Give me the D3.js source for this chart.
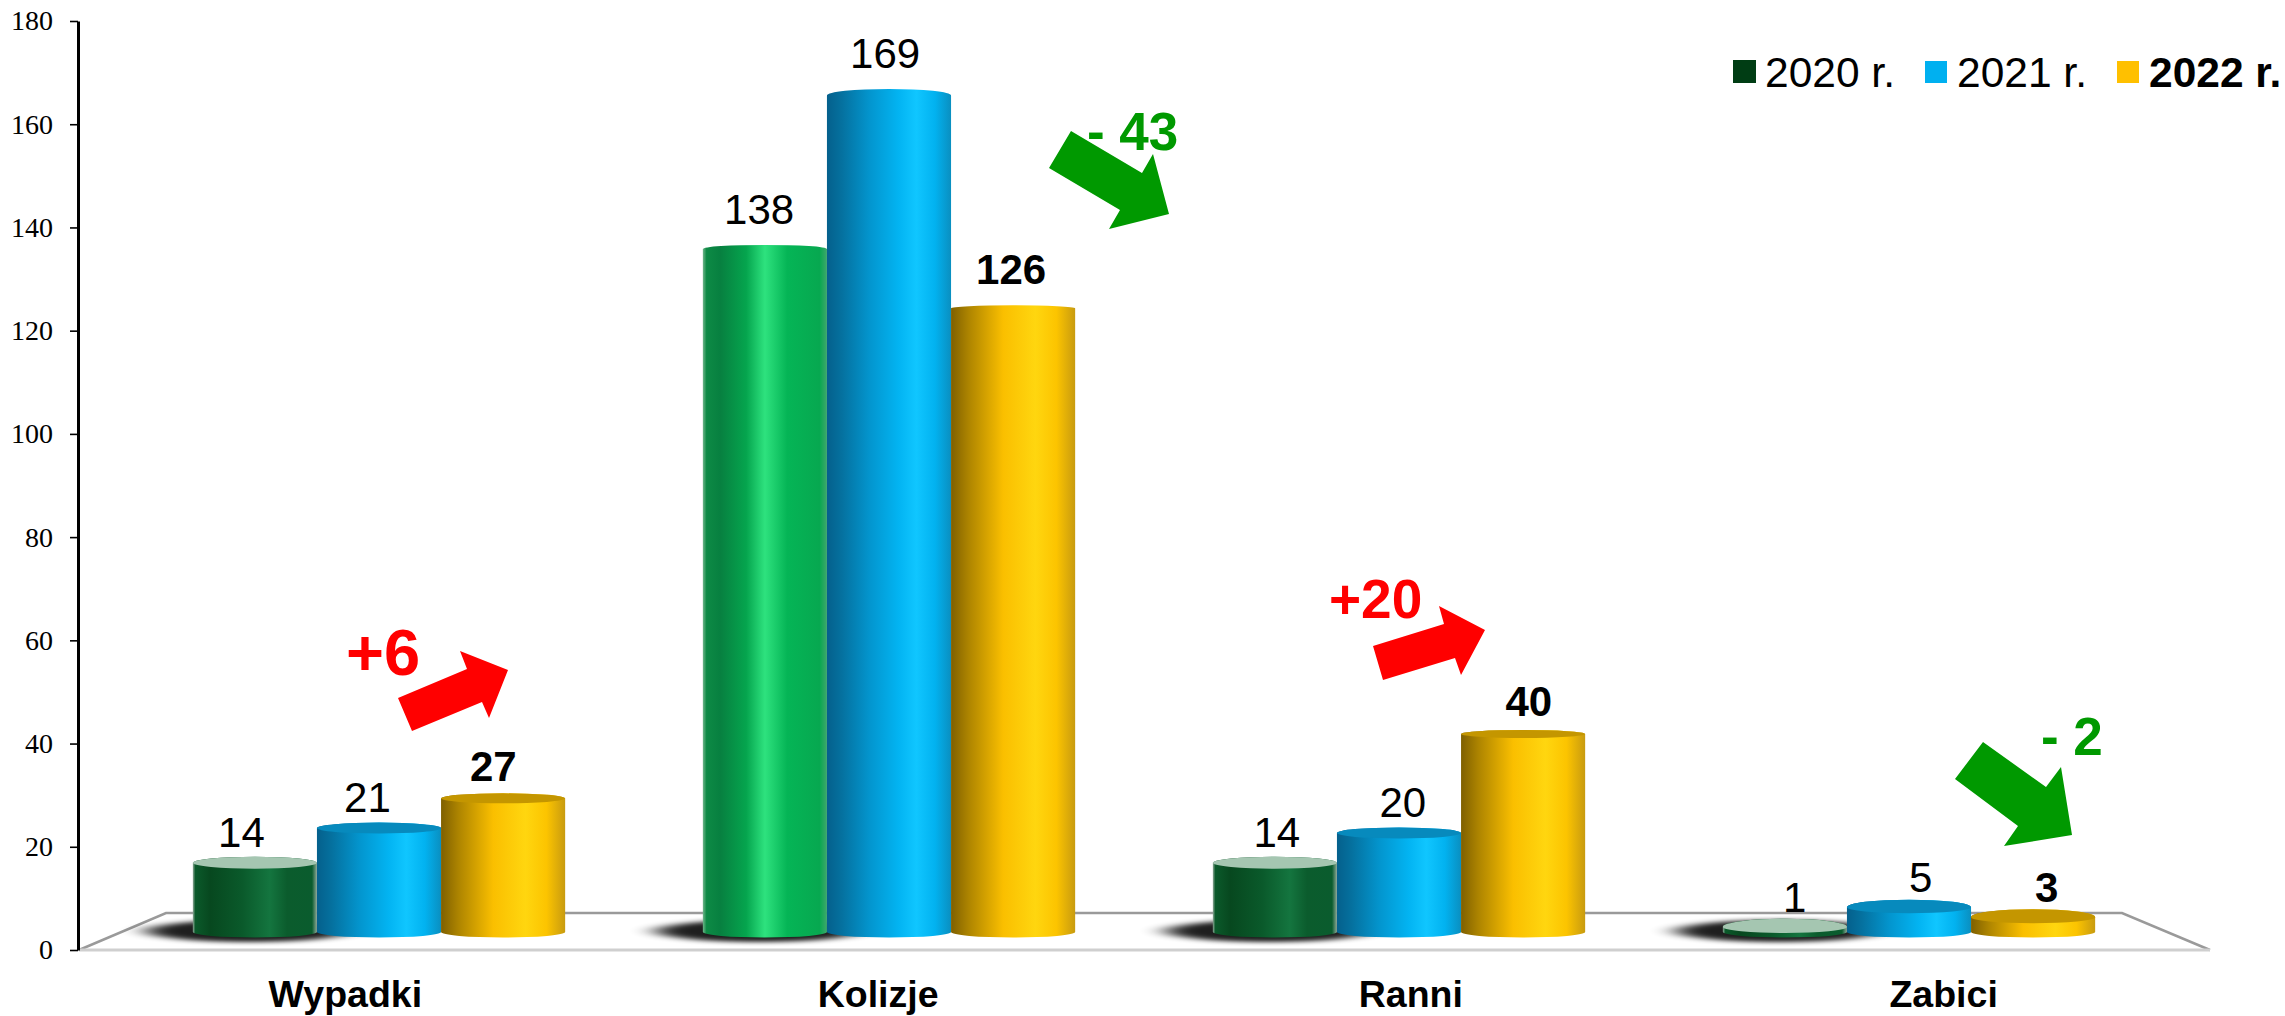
<!DOCTYPE html>
<html><head><meta charset="utf-8">
<style>html,body{margin:0;padding:0;background:#fff}svg{display:block}text{font-family:"Liberation Sans",Arial,sans-serif;fill:#000}</style>
<script src="https://cdn.jsdelivr.net/npm/d3@7"></script>
</head><body><div id="chart"></div>
<script>
const categories = ["Wypadki","Kolizje","Ranni","Zabici"];
const seriesNames = ["2020 r.","2021 r.","2022 r."];
const values2020 = [14,138,14,1];
const values2021 = [21,169,20,5];
const values2022 = [27,126,40,3];
const changes = ["+6","- 43","+20","- 2"];
const yTicks = [0,20,40,60,80,100,120,140,160,180];
const series = [values2020,values2021,values2022];

const W=2285,H=1016;
const svg=d3.select("#chart").append("svg").attr("width",W).attr("height",H).attr("viewBox",[0,0,W,H]);
const defs=svg.append("defs");
function grad(id,stops){
  const g=defs.append("linearGradient").attr("id",id).attr("x1",0).attr("x2",1).attr("y1",0).attr("y2",0);
  stops.forEach(s=>g.append("stop").attr("offset",s[0]).attr("stop-color",s[1]));
}
grad("gDark",[[0,"#8fa898"],[.02,"#0b5a2b"],[.14,"#07481f"],[.4,"#0a5a2b"],[.62,"#14753f"],[.76,"#0b5c2d"],[.96,"#0a5c2e"],[1,"#8fa898"]]);
grad("gBright",[[0,"#6fb58a"],[.03,"#0d8a45"],[.14,"#078040"],[.35,"#05a54e"],[.5,"#2ee27e"],[.68,"#05b556"],[.94,"#07a850"],[1,"#3fa86c"]]);
grad("gBlue",[[0,"#05608c"],[.12,"#05719f"],[.35,"#0396cf"],[.58,"#03b4f2"],[.72,"#10c6ff"],[.87,"#02b2f0"],[1,"#0a8fc0"]]);
grad("gGold",[[0,"#7f6000"],[.14,"#ad8400"],[.42,"#fabf00"],[.68,"#ffd60f"],[.85,"#fcc400"],[1,"#c89b10"]]);
defs.append("filter").attr("id","blur").attr("x","-40%").attr("width","180%").attr("y","-60%").attr("height","220%")
  .append("feGaussianBlur").attr("stdDeviation","13 2");

// axis scale (2D plane) and the slightly shorter scale of the bars standing on the floor
const yAxis=d3.scaleLinear().domain([0,180]).range([950,21]);
const barTop=d3.scaleLinear().domain([0,180]).range([932,932-180*4.95]);
const labelBase=d3.scaleLinear().domain([0,180]).range([917,13]);
const xLabel=d3.scaleBand().domain(categories).range([79,2210]);
const xBar=d3.scaleBand().domain(categories).range([124,2164]).paddingInner(.27).paddingOuter(.135);
const xInner=d3.scaleBand().domain(d3.range(3)).range([0,xBar.bandwidth()]);
const xPersp=d3.scaleLinear().domain([254,2034]).range([240.5,2047.5]);
const ryBack=d3.scaleLinear().domain([0,14,40,126,169]).range([8.5,6,4,3,6.5]).clamp(true);
const ryFront=d3.scaleLinear().domain([0,14,40,110]).range([6,6,4,0]).clamp(true);

// floor
const floor=svg.append("g").attr("fill","none");
floor.append("path").attr("d",d3.line()([[79,950],[166,913],[2122,913],[2210,950]])).attr("stroke","#9a9a9a").attr("stroke-width",2.5);
floor.append("line").attr("x1",79).attr("x2",2210).attr("y1",950).attr("y2",950).attr("stroke","#cfcfcf").attr("stroke-width",3);

// axis
const ag=svg.append("g").attr("transform","translate(78,0)")
  .call(d3.axisLeft(yAxis).tickValues(yTicks).tickSize(8).tickSizeOuter(0).tickPadding(17));
ag.select(".domain").attr("stroke","#000").attr("stroke-width",3);
ag.selectAll(".tick line").attr("stroke","#000").attr("stroke-width",1.6);
ag.selectAll(".tick text").style("font-family",'"Liberation Serif",serif').style("font-size","28px").attr("fill","#000");

const rx=xInner.bandwidth()/2, baseY=barTop(0), baseRy=5.5;
// shadows under first bars
categories.forEach((c,i)=>{
  const cx=xBar(c)+rx;
  svg.append("ellipse").attr("cx",cx-6).attr("cy",931).attr("rx",102).attr("ry",11).attr("fill","#000").attr("opacity",.88).attr("filter","url(#blur)");
});
// bars
const faces=["#a5c6b1","#078abd","#c49600"];
categories.forEach((c,i)=>{
  series.forEach((vals,s)=>{
    const v=vals[i], x0=xBar(c)+xInner(s), x1=x0+xInner.bandwidth(), t=barTop(v);
    const fill=s===0?(v>100?"url(#gBright)":"url(#gDark)"):s===1?"url(#gBlue)":"url(#gGold)";
    const rb=ryBack(v), rf=ryFront(v);
    svg.append("path").attr("fill",fill)
      .attr("d",`M${x0},${t}A${rx},${rb} 0 0 1 ${x1},${t}L${x1},${baseY}A${rx},${baseRy} 0 0 1 ${x0},${baseY}Z`);
    if(rf>0){
      svg.append("path").attr("fill",faces[s])
        .attr("d",`M${x0},${t}A${rx},${rb} 0 0 1 ${x1},${t}A${rx},${rf} 0 0 1 ${x0},${t}Z`);
    }
    const cx=x0+rx;
    svg.append("text").attr("x",xPersp(cx)).attr("y",labelBase(v)).attr("text-anchor","middle")
      .style("font-size","42px").style("font-weight",s===2?"bold":"normal").text(v);
  });
  svg.append("text").attr("x",xLabel(c)+xLabel.bandwidth()/2).attr("y",1007).attr("text-anchor","middle")
    .style("font-size","37.5px").style("font-weight","bold").text(c);
});

// change arrows
const arrows=[
  [[398,698],[467,669],[460,651],[508,670],[489,718],[482,702],[412,731]],
  [[1071,131],[1142,173],[1153,154],[1169,214],[1109,229],[1120,210],[1049,168]],
  [[1373,646],[1444,624],[1439,606],[1485,630],[1461,675],[1455,658],[1383,680]],
  [[1983,742],[2046,787],[2061,767],[2072,835],[2004,846],[2018,826],[1955,779]]
];
const changePos=[[346,675,65],[1087,150,53],[1329,618,55],[2041,755,53]];
changes.forEach((t,i)=>{
  const col=t.startsWith("+")?"#ff0000":"#009900";
  svg.append("polygon").attr("points",arrows[i].join(" ")).attr("fill",col);
  svg.append("text").attr("x",changePos[i][0]).attr("y",changePos[i][1]).attr("xml:space","preserve")
    .style("font-size",changePos[i][2]+"px").style("font-weight","bold").style("fill",col).text(t);
});

// legend
const legendColors=["#003d14","#00b0f0","#ffc000"];
const legendX=d3.scalePoint().domain(seriesNames).range([1733,2117]);
seriesNames.forEach((n,i)=>{
  const x=legendX(n);
  svg.append("rect").attr("x",x).attr("y",i===0?60:61).attr("width",i===0?23:22).attr("height",i===0?23:22).attr("fill",legendColors[i]);
  svg.append("text").attr("x",x+32).attr("y",87).style("font-size","42.5px").style("font-weight",i===2?"bold":"normal").text(n);
});
</script></body></html>
